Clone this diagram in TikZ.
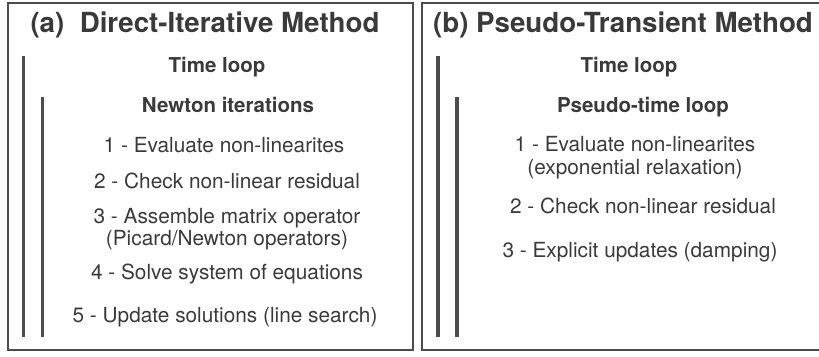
\documentclass[tikz,border=0pt]{standalone}
\usepackage{fontspec}
\setmainfont{TeX Gyre Heros}
\usetikzlibrary{positioning}
\definecolor{ink}{HTML}{3A3A3A}
\definecolor{rulegray}{HTML}{4C4C4C}

\begin{document}
\begin{tikzpicture}[x=1pt, y=-1pt,
      frame/.style={draw=rulegray, line width=1.3pt},
      loopbar/.style={draw=rulegray, line width=3.8pt},
      txt/.style={anchor=base, inner sep=0pt, text=ink},
      heading/.style={txt, font=\fontsize{27.7}{30}\selectfont\bfseries},
      looptitle/.style={txt, font=\fontsize{20.5}{24}\selectfont\bfseries},
      stepitem/.style={txt, align=center, font=\fontsize{20.8}{22.5}\selectfont}]
    \useasboundingbox (0,0) rectangle (819,356);
    \clip (0,0) rectangle (819,356);
    % two panels, the right one runs off the page
    \draw[frame] (8,3) rectangle (413,350);
    \draw[frame] (422,3) rectangle (830,350);

    % (a) direct-iterative
    \node[heading]   (titleA) at (205,32)  {(a)\ \ Direct-Iterative Method};
    \node[looptitle] (timeA)  at (217,72)  {Time loop};
    \node[looptitle] (newton) at (228,112) {Newton iterations};
    \node[stepitem]  (evalA)  at (224,152) {1 - Evaluate non-linearites};
    \node[stepitem]  (resA)   at (227,188) {2 - Check non-linear residual};
    \node[stepitem]  (assem)  at (227,245.5) {3 - Assemble matrix operator\\(Picard/Newton operators)};
    \node[stepitem]  (solve)  at (227,279) {4 - Solve system of equations};
    \node[stepitem]  (update) at (225,322) {5 - Update solutions (line search)};
    \draw[loopbar] (23.5,56) -- (23.5,337);
    \draw[loopbar] (42.5,97) -- (42.5,337);

    % (b) pseudo-transient
    \node[heading]   (titleB) at (623,32)  {(b) Pseudo-Transient Method};
    \node[looptitle] (timeB)  at (629,72)  {Time loop};
    \node[looptitle] (pseudo) at (643,112) {Pseudo-time loop};
    \node[stepitem]  (evalB)  at (635,174) {1 - Evaluate non-linearites\\(exponential relaxation)};
    \node[stepitem]  (resB)   at (643,213) {2 - Check non-linear residual};
    \node[stepitem]  (explic) at (640,257) {3 - Explicit updates (damping)};
    \draw[loopbar] (438,56) -- (438,337);
    \draw[loopbar] (457,97) -- (457,337);
  \end{tikzpicture}
\end{document}
